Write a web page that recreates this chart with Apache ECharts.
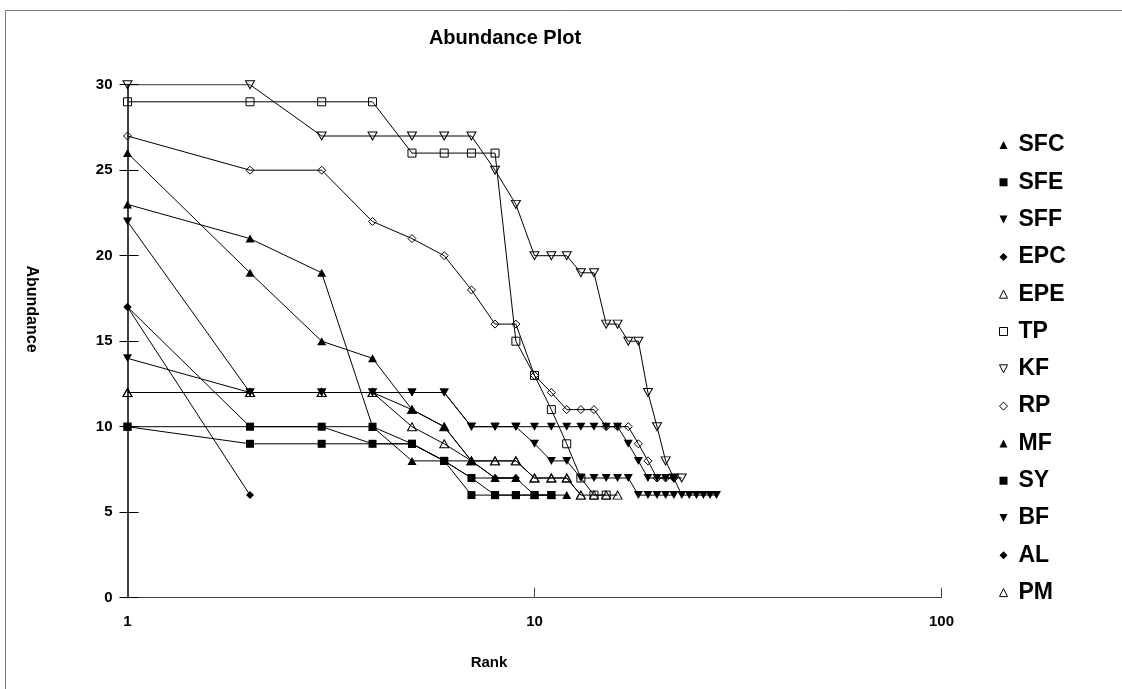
<!DOCTYPE html>
<html>
<head>
<meta charset="utf-8">
<script src="https://cdn.jsdelivr.net/npm/echarts@6/dist/echarts.min.js"></script>
<style>
  html, body { margin: 0; padding: 0; background: #fff; }
  #chart { width: 1122px; height: 689px; }
</style>
</head>
<body>
<div id="chart"></div>
<script>
// Abundance (individuals per species) against species rank, one series per site.
const siteNames = ['SFC', 'SFE', 'SFF', 'EPC', 'EPE', 'TP', 'KF', 'RP', 'MF', 'SY', 'BF', 'AL', 'PM'];

const SFC = [26, 19, 15, 14, 11, 10, 8, 7, 7, 6, 6, 6];
const SFE = [10, 10, 10, 10, 9, 8, 6, 6, 6, 6, 6];
const SFF = [22, 12, 12, 12, 12, 12, 10, 10, 10, 9, 8, 8, 7, 7, 7, 7, 7, 6, 6, 6, 6, 6];
const EPC = [17, 10, 10, 9, 9, 8, 7, 7, 7];
const EPE = [12, 12, 12, 12, 10, 9, 8, 8, 8, 7, 7, 7, 6, 6, 6, 6];
const TP  = [29, 29, 29, 29, 26, 26, 26, 26, 15, 13, 11, 9, 7, 6, 6];
const KF  = [30, 30, 27, 27, 27, 27, 27, 25, 23, 20, 20, 20, 19, 19, 16, 16, 15, 15, 12, 10, 8, 7, 7];
const RP  = [27, 25, 25, 22, 21, 20, 18, 16, 16, 13, 12, 11, 11, 11, 10, 10, 10, 9, 8, 7, 7, 7];
const MF  = [23, 21, 19, 10, 8, 8, 8, 7, 7];
const SY  = [10, 9, 9, 9, 9, 8, 7, 6, 6, 6, 6];
const BF  = [14, 12, 12, 12, 12, 12, 10, 10, 10, 10, 10, 10, 10, 10, 10, 10, 9, 8, 7, 7, 7, 7, 6, 6, 6, 6, 6, 6];
const AL  = [17, 6];
const PM  = [12, 12, 12, 12, 11, 10, 8, 8, 8, 7, 7, 7, 6];

const siteValues = [SFC, SFE, SFF, EPC, EPE, TP, KF, RP, MF, SY, BF, AL, PM];

const xTickLabels = ['1', '10', '100'];
const yTickLabels = ['0', '5', '10', '15', '20', '25', '30'];

// marker shapes: [symbol, hollow]
const TRI_UP = 'triangle';
const TRI_DOWN = 'path://M0,0L10,0L5,10Z';
const SQUARE = 'rect';
const DIAMOND = 'diamond';
const markers = [
  [TRI_UP, false], [SQUARE, false], [TRI_DOWN, false], [DIAMOND, false],
  [TRI_UP, true], [SQUARE, true], [TRI_DOWN, true], [DIAMOND, true],
  [TRI_UP, false], [SQUARE, false], [TRI_DOWN, false], [DIAMOND, false],
  [TRI_UP, true]
];
function sizeOf(sym) {
  if (sym === TRI_UP || sym === TRI_DOWN) return [9, 8];
  return [8, 8];
}

const FONT = "'Liberation Sans', Arial, sans-serif";

const series = siteNames.map((name, i) => {
  const [sym, hollow] = markers[i];
  return {
    name: name,
    type: 'line',
    data: siteValues[i].map((v, k) => [k + 1, v]),
    symbol: sym,
    symbolSize: sizeOf(sym),
    showAllSymbol: true,
    lineStyle: { color: '#000', width: 1 },
    itemStyle: hollow
      ? { color: 'rgba(0,0,0,0)', borderColor: '#000', borderWidth: 1 }
      : { color: '#000', borderColor: '#000', borderWidth: 0 },
    emphasis: { disabled: true },
    animation: false,
    z: 2 + i
  };
});

const legendData = siteNames.map((name, i) => {
  const [sym, hollow] = markers[i];
  return {
    name: name,
    icon: sym,
    itemStyle: hollow
      ? { color: '#fff', borderColor: '#000', borderWidth: 1 }
      : { color: '#000', borderWidth: 0 }
  };
});

const chart = echarts.init(document.getElementById('chart'), null, { renderer: 'canvas' });

chart.setOption({
  backgroundColor: '#fff',
  animation: false,
  textStyle: { fontFamily: FONT },
  grid: { left: 127.5, right: 180.5, top: 84.7, bottom: 91.3, containLabel: false },
  xAxis: {
    type: 'log',
    logBase: 10,
    min: 1,
    max: 100,
    axisLine: { show: true, lineStyle: { color: '#444', width: 1 } },
    axisTick: { show: true, inside: true, length: 10, lineStyle: { color: '#444' } },
    minorTick: { show: false },
    splitLine: { show: false },
    axisLabel: {
      margin: 17,
      color: '#000',
      fontSize: 15,
      fontWeight: 'bold',
      fontFamily: FONT,
      formatter: v => xTickLabels.includes(String(v)) ? String(v) : ''
    }
  },
  yAxis: [
    {
      type: 'value',
      min: 0,
      max: 30,
      interval: 5,
      axisLine: { show: true, onZero: false, lineStyle: { color: '#000', width: 1.5 } },
      axisTick: { show: true, inside: false, length: 8, lineStyle: { color: '#000' } },
      splitLine: { show: false },
      axisLabel: {
        margin: 15,
        color: '#000',
        fontSize: 15,
        fontWeight: 'bold',
        fontFamily: FONT,
        formatter: v => yTickLabels.includes(String(v)) ? String(v) : ''
      }
    },
    {
      type: 'value',
      position: 'left',
      min: 0,
      max: 30,
      interval: 5,
      axisLine: { show: false },
      axisTick: { show: true, inside: true, length: 11, lineStyle: { color: '#000' } },
      splitLine: { show: false },
      axisLabel: { show: false }
    }
  ],
  legend: {
    orient: 'vertical',
    left: 994,
    top: 128,
    itemWidth: 8,
    itemHeight: 8,
    itemGap: 13.3,
    selectedMode: false,
    data: legendData,
    textStyle: {
      color: '#000',
      fontSize: 23,
      fontWeight: 'bold',
      fontFamily: FONT,
      lineHeight: 24,
      padding: [0, 0, 0, 6]
    }
  },
  graphic: [
    {
      type: 'rect',
      silent: true,
      shape: { x: 5.5, y: 10.5, width: 1300, height: 900 },
      style: { fill: 'none', stroke: '#777', lineWidth: 1 }
    },
    {
      type: 'text',
      silent: true,
      x: 505, y: 38,
      style: {
        text: 'Abundance Plot',
        x: 0, y: 0,
        align: 'center', verticalAlign: 'middle',
        fill: '#000', font: "bold 20px " + FONT
      }
    },
    {
      type: 'text',
      silent: true,
      x: 489, y: 663,
      style: {
        text: 'Rank',
        x: 0, y: 0,
        align: 'center', verticalAlign: 'middle',
        fill: '#000', font: "bold 15px " + FONT
      }
    },
    {
      type: 'text',
      silent: true,
      x: 31, y: 309,
      rotation: -Math.PI / 2,
      style: {
        text: 'Abundance',
        x: 0, y: 0,
        align: 'center', verticalAlign: 'middle',
        fill: '#000', font: "bold 16px " + FONT
      }
    }
  ],
  series: series
});
</script>
</body>
</html>
